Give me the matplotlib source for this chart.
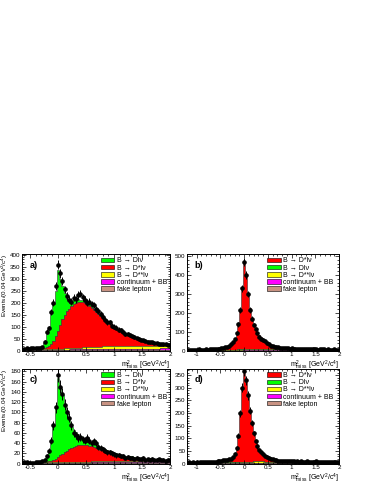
import numpy as np
import matplotlib
matplotlib.use('Agg')
import matplotlib.pyplot as plt
import matplotlib.patches as mpatches
from matplotlib.ticker import MultipleLocator, FormatStrFormatter

plt.rcParams['font.family'] = ['Liberation Sans', 'DejaVu Sans']
plt.rcParams['font.size'] = 5
plt.rcParams['mathtext.fontset'] = 'custom'
plt.rcParams['mathtext.rm'] = 'Liberation Sans'
plt.rcParams['mathtext.it'] = 'Liberation Sans:italic'
plt.rcParams['mathtext.bf'] = 'Liberation Sans:bold'

# colours of the stack components
C_DLV = '#00ff00'
C_DST = '#ff0000'
C_DSS = '#ffff00'
C_CONT = '#ff00ff'
C_FAKE = '#c89282'

LAB_DLV = 'B \u2192 Dl\u03bd'
LAB_DST = 'B \u2192 D*l\u03bd'
LAB_DSS = 'B \u2192 D**l\u03bd'
LAB_CONT = 'continuum + BB'
LAB_FAKE = 'fake lepton'

# ---- panels a) and c): bins of 0.04, centres -0.60 .. 2.00
a_fake = [2] * 66
a_cont = [3, 3, 3, 3, 3, 3, 3, 3, 3, 3,
          3, 3, 3, 3, 3, 3, 3, 3, 3, 3,
          3, 4, 4, 4, 4, 4, 4, 4, 4, 4,
          4, 4, 4, 4, 4, 4, 4, 4, 4, 4,
          4, 5, 5, 5, 5, 5, 5, 5, 5, 5,
          5, 5, 5, 5, 5, 5, 6, 6, 7, 7,
          7, 8, 8, 8, 8, 8]
a_dss = [1, 1, 1, 1, 1, 1, 1, 1, 2, 2,
         2, 3, 3, 3, 3, 4, 4, 4, 5, 5,
         5, 6, 7, 7, 8, 8, 9, 9, 10, 10,
         11, 11, 12, 12, 12, 13, 13, 13, 14, 14,
         14, 14, 14, 15, 15, 15, 15, 15, 15, 14,
         14, 14, 14, 13, 13, 13, 12, 12, 12, 11,
         11, 11, 10, 10, 10, 9]
a_dst = [0, 0, 0, 1, 1, 1, 1, 1, 2, 4,
         8, 14, 22, 35, 52, 75, 100, 122, 140, 155,
         166, 174, 180, 185, 188, 189, 187, 183, 178, 170,
         162, 153, 144, 135, 126, 117, 108, 100, 92, 85,
         78, 71, 65, 59, 54, 49, 45, 41, 37, 34,
         31, 28, 26, 24, 22, 20, 18, 17, 15, 14,
         13, 12, 11, 10, 10, 9]
a_dlv = [0, 0, 0, 0, 0, 0, 1, 1, 3, 20,
         55, 75, 125, 150, 190, 250, 190, 140, 90, 50,
         32, 24, 18, 14, 12, 10, 9, 8, 8, 7,
         7, 6, 6, 5, 5, 5, 4, 4, 4, 3,
         3, 3, 3, 3, 3, 2, 2, 2, 2, 2,
         2, 2, 2, 2, 2, 1, 1, 1, 1, 1,
         1, 1, 1, 1, 1, 1]
a_data = [8, 10, 7, 12, 10, 13, 11, 14, 15, 38,
          80, 95, 160, 200, 268, 358, 322, 290, 255, 228,
          212, 205, 220, 214, 232, 238, 222, 212, 200, 205,
          195, 190, 175, 165, 152, 140, 130, 120, 118, 105,
          100, 96, 88, 85, 78, 72, 70, 64, 60, 58,
          52, 50, 46, 44, 42, 38, 36, 36, 33, 32,
          30, 28, 27, 29, 25, 26]

c_fake = [1] * 66
c_cont = [1] * 30 + [2] * 36
c_dss = [0, 0, 0, 0, 0, 0, 0, 0, 0, 1,
         1, 1, 1, 1, 1, 1, 1, 1, 1, 1,
         2, 2, 2, 2, 2, 2, 2, 2, 2, 2,
         2, 2, 2, 2, 2, 3, 3, 3, 3, 3,
         3, 3, 3, 3, 3, 3, 3, 3, 3, 3,
         3, 3, 2, 2, 2, 2, 2, 2, 2, 2,
         2, 2, 2, 2, 2, 2]
c_dst = [0, 0, 0, 0, 0, 0, 0, 0, 0, 0,
         1, 2, 3, 5, 7, 10, 13, 16, 19, 22,
         25, 27, 29, 31, 32, 33, 33, 33, 32, 31,
         30, 28, 26, 24, 22, 20, 18, 16, 14, 13,
         12, 11, 10, 9, 8, 7, 7, 6, 6, 5,
         5, 4, 4, 4, 3, 3, 3, 3, 3, 2,
         2, 2, 2, 2, 2, 2]
c_dlv = [0, 0, 0, 0, 0, 0, 0, 0, 1, 5,
         12, 22, 40, 68, 100, 155, 132, 115, 95, 78,
         62, 40, 32, 26, 21, 17, 13, 10, 8, 7,
         6, 6, 5, 5, 5, 4, 4, 4, 3, 3,
         3, 3, 3, 2, 2, 2, 2, 2, 2, 2,
         2, 2, 1, 1, 1, 1, 1, 1, 1, 1,
         1, 1, 1, 1, 1, 1]
c_data = [4, 3, 2, 1, 2, 3, 4, 3, 5, 8,
          15, 25, 45, 75, 110, 172, 150, 135, 115, 100,
          90, 75, 60, 55, 50, 52, 48, 45, 50, 45,
          40, 44, 40, 32, 30, 28, 25, 22, 22, 20,
          18, 16, 17, 14, 15, 12, 13, 11, 12, 10,
          12, 10, 9, 11, 8, 9, 8, 10, 7, 8,
          9, 7, 8, 6, 8, 7]

# ---- panels b) and d): bins of 0.04, centres -1.20 .. 2.00
b_fake = [1] * 81
b_cont = [1] * 30 + [2] * 20 + [3] * 15 + [4] * 16
b_dss = ([0] * 15 + [1] * 10 + [2, 2, 3, 3, 4]
         + [5, 5, 6, 6, 6, 7, 7, 7, 7, 7, 7, 6, 6, 6, 6]
         + [5, 5, 5, 5, 4, 4, 4, 4, 4, 3]
         + [3] * 7 + [2] * 12 + [1] * 7)
b_dlv = ([0] * 15
         + [1, 1, 2, 2, 2, 3, 3, 3, 3, 3, 3, 3, 3, 3, 3, 2, 1]
         + [0] * 49)
b_dst = [2, 2, 2, 3, 2, 3, 3, 3, 3, 3, 4, 4, 4, 4, 5, 5, 5,
         6, 7, 9, 11, 14, 19, 25, 34, 50, 82,
         128, 205, 318, 455, 390, 295, 215, 162, 128, 104,
         86, 72, 62, 54, 47, 40, 33, 27, 22, 19,
         16, 14, 12, 11, 10, 9, 8, 8, 7,
         7, 6, 6, 6, 6, 5, 5, 5, 5, 5, 4, 4, 4, 4, 4,
         4, 3, 3, 3, 3, 3, 3, 3, 3, 3]
b_data = [5, 6, 4, 7, 5, 6, 8, 5, 7, 6, 8, 7, 9, 8, 10, 9, 11,
          12, 14, 16, 18, 22, 28, 35, 45, 62, 95,
          140, 215, 330, 470, 400, 300, 215, 170, 135, 115,
          92, 75, 65, 58, 52, 42, 35, 28, 25, 22,
          20, 18, 17, 15, 16, 14, 13, 12, 14,
          11, 10, 12, 9, 10, 11, 9, 10, 8, 9, 10, 8, 9, 7, 8,
          9, 8, 7, 8, 6, 7, 8, 7, 6, 7]

d_fake = [1] * 81
d_cont = [1] * 30 + [2] * 51
d_dss = ([0] * 15 + [1] * 10 + [1, 2, 2, 3, 3]
         + [4, 4, 5, 5, 5, 6, 6, 6, 6, 6, 6, 5, 5, 5, 5]
         + [4, 4, 4, 4, 3, 3, 3, 3, 3, 3]
         + [2] * 19 + [1] * 7)
d_dlv = ([0] * 15
         + [1, 1, 1, 2, 2, 2, 2, 2, 2, 2, 2, 2, 2, 2, 2, 1, 1]
         + [0] * 49)
d_dst = [2, 3, 2, 3, 2, 3, 2, 3, 3, 3, 3, 4, 4, 4, 5, 5, 5,
         6, 7, 8, 9, 10, 12, 15, 20, 31, 54,
         100, 188, 288, 350, 315, 256, 197, 148, 109, 80,
         59, 46, 37, 30, 25, 21, 17, 14, 12, 10,
         9, 8, 7, 7, 6, 6, 6, 5, 5,
         5, 5, 5, 4, 4, 4, 4, 4, 4, 4, 3, 3, 3, 3, 3,
         3, 3, 3, 3, 2, 2, 2, 2, 2, 2]
d_data = [4, 5, 3, 6, 4, 5, 4, 6, 5, 6, 5, 7, 6, 7, 8, 7, 9,
          10, 11, 13, 14, 15, 17, 20, 26, 38, 62,
          110, 200, 300, 365, 330, 270, 210, 160, 120, 90,
          68, 55, 45, 38, 32, 28, 24, 20, 17, 15,
          13, 12, 12, 11, 10, 11, 9, 10, 9,
          9, 8, 10, 8, 9, 7, 8, 9, 7, 8, 8, 7, 9, 7, 8,
          6, 7, 8, 7, 6, 7, 6, 7, 6, 7]

XLABEL = r'm$^{2}_{\mathrm{miss}}$ [GeV$^{2}$/c$^{4}$]'
YLABEL = r'Events/(0.04 GeV$^{2}$/c$^{4}$)'


def draw_panel(ax, x0, comps, data, ylim, ymajor, yminor, xlim, tag, legend_order, ylabel):
    n = len(data)
    centres = x0 + 0.04 * np.arange(n)
    edges = np.append(centres - 0.02, centres[-1] + 0.02)
    ax.hist([centres] * len(comps), bins=edges,
            weights=[c[0] for c in comps], stacked=True,
            histtype='stepfilled', color=[c[1] for c in comps],
            edgecolor='#333333', linewidth=0.4)
    data = np.array(data, dtype=float)
    ax.errorbar(centres, data, yerr=np.sqrt(data), fmt='o', color='k',
                ms=2.3, lw=0.7, capsize=0)
    ax.set_xlim(*xlim)
    ax.set_ylim(*ylim)
    ax.xaxis.set_major_locator(MultipleLocator(0.5))
    ax.xaxis.set_minor_locator(MultipleLocator(0.1))
    ax.yaxis.set_major_locator(MultipleLocator(ymajor))
    ax.yaxis.set_minor_locator(MultipleLocator(yminor))
    ax.xaxis.set_major_formatter(FormatStrFormatter('%g'))
    ax.yaxis.set_major_formatter(FormatStrFormatter('%g'))
    ax.tick_params(which='both', direction='in', top=True, right=True,
                   width=0.5, labelsize=4.5, pad=1.0)
    ax.tick_params(which='major', length=3)
    ax.tick_params(which='minor', length=1.5)
    for s in ax.spines.values():
        s.set_linewidth(0.7)
    ax.set_xlabel(XLABEL, fontsize=5, ha='right')
    ax.xaxis.set_label_coords(1.0, -0.085, transform=ax.transAxes)
    if ylabel:
        ax.set_ylabel(YLABEL, fontsize=4.5, ha='right')
        ax.yaxis.set_label_coords(-0.083, 1.0, transform=ax.transAxes)
    ax.text(0.05, 0.93, tag, transform=ax.transAxes, fontsize=6.5,
            fontweight='bold', va='top', ha='left')
    handles = [mpatches.Patch(facecolor=col, edgecolor='k', linewidth=0.4, label=lab)
               for lab, col in legend_order]
    ax.legend(handles=handles, loc='upper left', bbox_to_anchor=(0.53, 0.965),
              frameon=False, fontsize=5, handlelength=2.0, handleheight=0.6,
              handletextpad=0.3, labelspacing=0.02, borderaxespad=0, borderpad=0)


fig = plt.figure(figsize=(3.74, 4.84), dpi=100)
ax_a = fig.add_axes([0.059, 0.275, 0.396, 0.200])
ax_b = fig.add_axes([0.499, 0.275, 0.408, 0.200])
ax_c = fig.add_axes([0.059, 0.042, 0.396, 0.196])
ax_d = fig.add_axes([0.499, 0.042, 0.408, 0.196])

order_ac = [(LAB_DLV, C_DLV), (LAB_DST, C_DST), (LAB_DSS, C_DSS),
            (LAB_CONT, C_CONT), (LAB_FAKE, C_FAKE)]
order_bd = [(LAB_DST, C_DST), (LAB_DLV, C_DLV), (LAB_DSS, C_DSS),
            (LAB_CONT, C_CONT), (LAB_FAKE, C_FAKE)]

draw_panel(ax_a, -0.6,
           [(a_fake, C_FAKE), (a_cont, C_CONT), (a_dss, C_DSS), (a_dst, C_DST), (a_dlv, C_DLV)],
           a_data, (0, 402), 50, 10, (-0.64, 2.0), 'a)', order_ac, True)
draw_panel(ax_c, -0.6,
           [(c_fake, C_FAKE), (c_cont, C_CONT), (c_dss, C_DSS), (c_dst, C_DST), (c_dlv, C_DLV)],
           c_data, (0, 185), 20, 5, (-0.64, 2.0), 'c)', order_ac, True)
draw_panel(ax_b, -1.2,
           [(b_fake, C_FAKE), (b_cont, C_CONT), (b_dss, C_DSS), (b_dlv, C_DLV), (b_dst, C_DST)],
           b_data, (0, 510), 100, 20, (-1.21, 2.0), 'b)', order_bd, False)
draw_panel(ax_d, -1.2,
           [(d_fake, C_FAKE), (d_cont, C_CONT), (d_dss, C_DSS), (d_dlv, C_DLV), (d_dst, C_DST)],
           d_data, (0, 375), 50, 10, (-1.21, 2.0), 'd)', order_bd, False)

fig.savefig('out.png', dpi=100)
